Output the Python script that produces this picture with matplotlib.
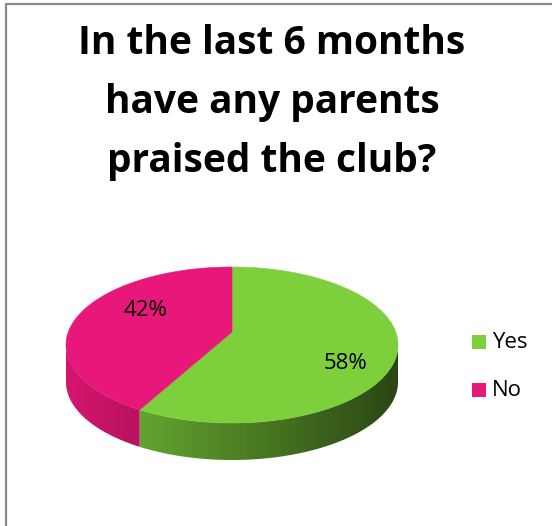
"""Draw the parent-praise survey result as a tilted 3D-style pie."""

import numpy as np
import matplotlib.pyplot as plt
from matplotlib.colors import to_rgb
from matplotlib.patches import Polygon, Rectangle

TITLE_LINES = ["In the last 6 months", "have any parents", "praised the club?"]
ANSWERS = ["Yes", "No"]
SHARES = [58, 42]
COLORS = ["#7DCF3B", "#E8177A"]

# pie geometry in pixel units (y grows downward)
CX, CY = 232, 345          # centre of the outline ellipse
RX, RY = 166, 78
DEPTH = 37
PERSP = 0.167              # how much nearer rim points get stretched
LABEL_R = 0.71
LABEL_SHIFT = [2, 28]      # degrees, nudges a label off its wedge midpoint

FONTS = ["Open Sans", "DejaVu Sans"]


def project(theta_deg, r=1.0, dy=0.0):
    """Clockwise angle from 12 o'clock on the disc -> pixel position."""
    t = np.radians(theta_deg)
    u = r * np.sin(t)
    v = -r * np.cos(t)          # +1 is the rim closest to the viewer
    w = 1.0 - PERSP * v
    k2 = 1.0 - PERSP ** 2
    sx = RX * np.sqrt(k2)
    sy = RY * k2
    apex_y = CY - sy * PERSP / k2
    return CX + sx * u / w, apex_y + sy * v / w + dy


def side_shade(x):
    # lighting falls off from left to right along the rim
    return np.clip(0.92 - (x - 66) * 0.00175, 0.34, 1.0)


def main():
    fig = plt.figure(figsize=(5.52, 5.26), dpi=100)
    ax = fig.add_axes([0, 0, 1, 1])
    ax.set_xlim(0, 552)
    ax.set_ylim(526, 0)
    ax.axis("off")

    # chart area frame
    ax.plot([5.5, 5.5, 560], [530, 3.5, 3.5], color="#8a8a8a", lw=1.6,
            solid_capstyle="butt", solid_joinstyle="miter")

    for i, line in enumerate(TITLE_LINES):
        ax.text(272, 54 + 59 * i, line, ha="center", va="baseline",
                fontsize=28, fontweight="bold", family=FONTS)

    total = float(sum(SHARES))
    bounds = np.concatenate([[0.0], np.cumsum(SHARES) / total * 360.0])

    # the rim is visible between the two silhouette points
    edge = np.degrees(np.arccos(-PERSP))
    front = (edge, 360.0 - edge)

    # front rim of each wedge, shaded with a horizontal gradient
    for i, color in enumerate(COLORS):
        lo = max(bounds[i], front[0])
        hi = min(bounds[i + 1], front[1])
        if lo >= hi:
            continue
        th = np.linspace(lo, hi, 200)
        xt, yt = project(th)
        xb, yb = project(th[::-1], dy=DEPTH)
        poly = Polygon(np.column_stack([np.r_[xt, xb], np.r_[yt, yb]]),
                       closed=True, facecolor="none", edgecolor="none")
        ax.add_patch(poly)
        x0, x1 = xt.min() - 2, xt.max() + 2
        y0, y1 = yt.min() - 2, yb.max() + 2
        cols = np.linspace(x0, x1, 400)
        row = np.array(to_rgb(color))[None, :] * side_shade(cols)[:, None]
        img = np.repeat(row[None, :, :], 2, axis=0)
        im = ax.imshow(img, extent=[x0, x1, y1, y0], aspect="auto",
                       interpolation="bilinear", zorder=1)
        im.set_clip_path(poly)

    # top faces
    apex = project(0.0, r=0.0)
    for i, color in enumerate(COLORS):
        th = np.linspace(bounds[i], bounds[i + 1], 300)
        xs, ys = project(th)
        pts = np.column_stack([np.r_[apex[0], xs], np.r_[apex[1], ys]])
        ax.add_patch(Polygon(pts, closed=True, facecolor=color,
                             edgecolor=color, lw=0.4, zorder=2))

    # percentage labels
    for i, share in enumerate(SHARES):
        mid = (bounds[i] + bounds[i + 1]) / 2 + LABEL_SHIFT[i]
        t = np.radians(mid)
        lx = CX + LABEL_R * RX * np.sin(t)
        ly = CY + 3 - LABEL_R * RY * np.cos(t)
        ax.text(lx, ly, f"{share}%", ha="center", va="center",
                fontsize=16, family=FONTS, zorder=3)

    # legend
    for i, (name, color) in enumerate(zip(ANSWERS, COLORS)):
        y = 342 + i * 48
        ax.add_patch(Rectangle((472, y - 7), 14, 14, facecolor=color,
                               edgecolor="none"))
        ax.text(492, y, name, ha="left", va="center", fontsize=16,
                family=FONTS)

    fig.savefig("out.png", dpi=100)
    plt.close(fig)


if __name__ == "__main__":
    main()
